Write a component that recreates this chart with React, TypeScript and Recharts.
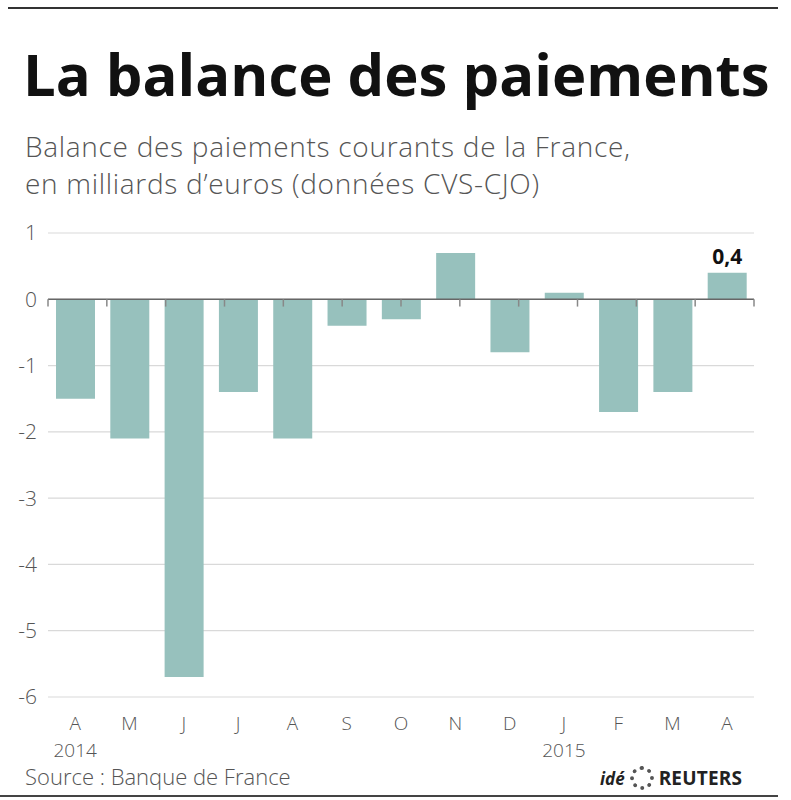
import React from 'react';
import {
  BarChart,
  Bar,
  XAxis,
  YAxis,
  CartesianGrid,
  ReferenceLine,
  LabelList
} from 'recharts';

const months = ['A', 'M', 'J', 'J', 'A', 'S', 'O', 'N', 'D', 'J', 'F', 'M', 'A'];
const years = ['2014', '', '', '', '', '', '', '', '', '2015', '', '', ''];
const balance = [-1.5, -2.1, -5.7, -1.4, -2.1, -0.4, -0.3, 0.7, -0.8, 0.1, -1.7, -1.4, 0.4];
const yTicks = [1, 0, -1, -2, -3, -4, -5, -6];

const data = months.map((m, i) => ({ key: `${m}-${i}`, month: m, year: years[i], value: balance[i] }));

const FONT = '"Open Sans", "DejaVu Sans", sans-serif';
const GREY = '#555555';
const BAR = '#97c1bd';

const MonthTick = (props: any) => {
  const { x, y, payload } = props;
  const d = data[payload.index];
  return (
    <g>
      <text x={x} y={y + 25} textAnchor="middle" fontFamily={FONT} fontSize={19} fontWeight={300} fill={GREY}>
        {d ? d.month : ''}
      </text>
      {d && d.year ? (
        <text x={x} y={y + 52} textAnchor="middle" fontFamily={FONT} fontSize={19} fontWeight={300} fill={GREY}>
          {d.year}
        </text>
      ) : null}
    </g>
  );
};

const LastLabel = (props: any) => {
  const { x, y, width, index, value } = props;
  if (index !== balance.length - 1) return null;
  return (
    <text x={x + width / 2} y={y - 9} textAnchor="middle" fontFamily={FONT} fontSize={21} fontWeight={700} fill="#111">
      {String(value).replace('.', ',')}
    </text>
  );
};

export default function App() {
  return (
    <div style={{ position: 'absolute', left: 0, top: 0, width: 791, height: 800, background: '#fff', fontFamily: FONT }}>
      <div style={{ position: 'absolute', left: 8, top: 7, width: 770, height: 2, background: '#333' }} />
      <div style={{ position: 'absolute', left: 23, top: 38, fontSize: 58, fontWeight: 700, color: '#111', lineHeight: '72px', whiteSpace: 'nowrap' }}>
        La balance des paiements
      </div>
      <div style={{ position: 'absolute', left: 25, top: 128, fontSize: 28, fontWeight: 300, color: GREY, lineHeight: '37px', letterSpacing: 0.7, whiteSpace: 'nowrap' }}>
        Balance des paiements courants de la France,
        <br />
        en milliards d’euros (données CVS-CJO)
      </div>

      <div style={{ position: 'absolute', left: 0, top: 0 }}>
        <BarChart
          width={791}
          height={800}
          data={data}
          margin={{ top: 233, right: 37, left: 0, bottom: 0 }}
          barSize={39}
        >
          <CartesianGrid horizontal={true} vertical={false} stroke="#d9d9d9" strokeWidth={1.2} />
          <XAxis
            dataKey="key"
            xAxisId="cat"
            axisLine={false}
            tickLine={false}
            height={103}
            interval={0}
            tick={<MonthTick />}
          />
          <XAxis xAxisId="edge" type="number" domain={[0, months.length]} hide />
          <YAxis
            width={48}
            domain={[-6, 1]}
            ticks={yTicks}
            axisLine={false}
            tickLine={false}
            tickMargin={5}
            tick={{ fontFamily: FONT, fontSize: 21, fontWeight: 300, fill: GREY }}
          />
          <Bar dataKey="value" xAxisId="cat" fill={BAR} isAnimationActive={false}>
            <LabelList dataKey="value" content={<LastLabel />} />
          </Bar>
          <ReferenceLine y={0} xAxisId="cat" stroke="#666" strokeWidth={1.6} />
          {months.map((_, i) => (
            <ReferenceLine
              key={`edge-${i}`}
              xAxisId="edge"
              segment={[{ x: i, y: 0 }, { x: i, y: -0.11 }]}
              stroke="#888"
              strokeWidth={1.5}
            />
          ))}
          <ReferenceLine
            xAxisId="edge"
            segment={[{ x: months.length, y: 0 }, { x: months.length, y: -0.11 }]}
            stroke="#888"
            strokeWidth={1.5}
          />
        </BarChart>
      </div>

      <div style={{ position: 'absolute', left: 25, top: 761, fontSize: 22, fontWeight: 300, color: GREY, lineHeight: '30px', whiteSpace: 'nowrap' }}>
        Source : Banque de France
      </div>
      <div style={{ position: 'absolute', left: 600, top: 765, height: 26, display: 'flex', alignItems: 'center', gap: 5, color: '#222', whiteSpace: 'nowrap' }}>
        <span style={{ fontStyle: 'italic', fontWeight: 700, fontSize: 17 }}>idé</span>
        <span style={{ display: 'inline-block', width: 24, height: 24, borderRadius: 12, border: '4px dotted #555', boxSizing: 'border-box' }} />
        <span style={{ fontWeight: 700, fontSize: 19, letterSpacing: 0.2 }}>REUTERS</span>
      </div>
      <div style={{ position: 'absolute', left: 0, top: 795, width: 778, height: 2, background: '#444' }} />
    </div>
  );
}
